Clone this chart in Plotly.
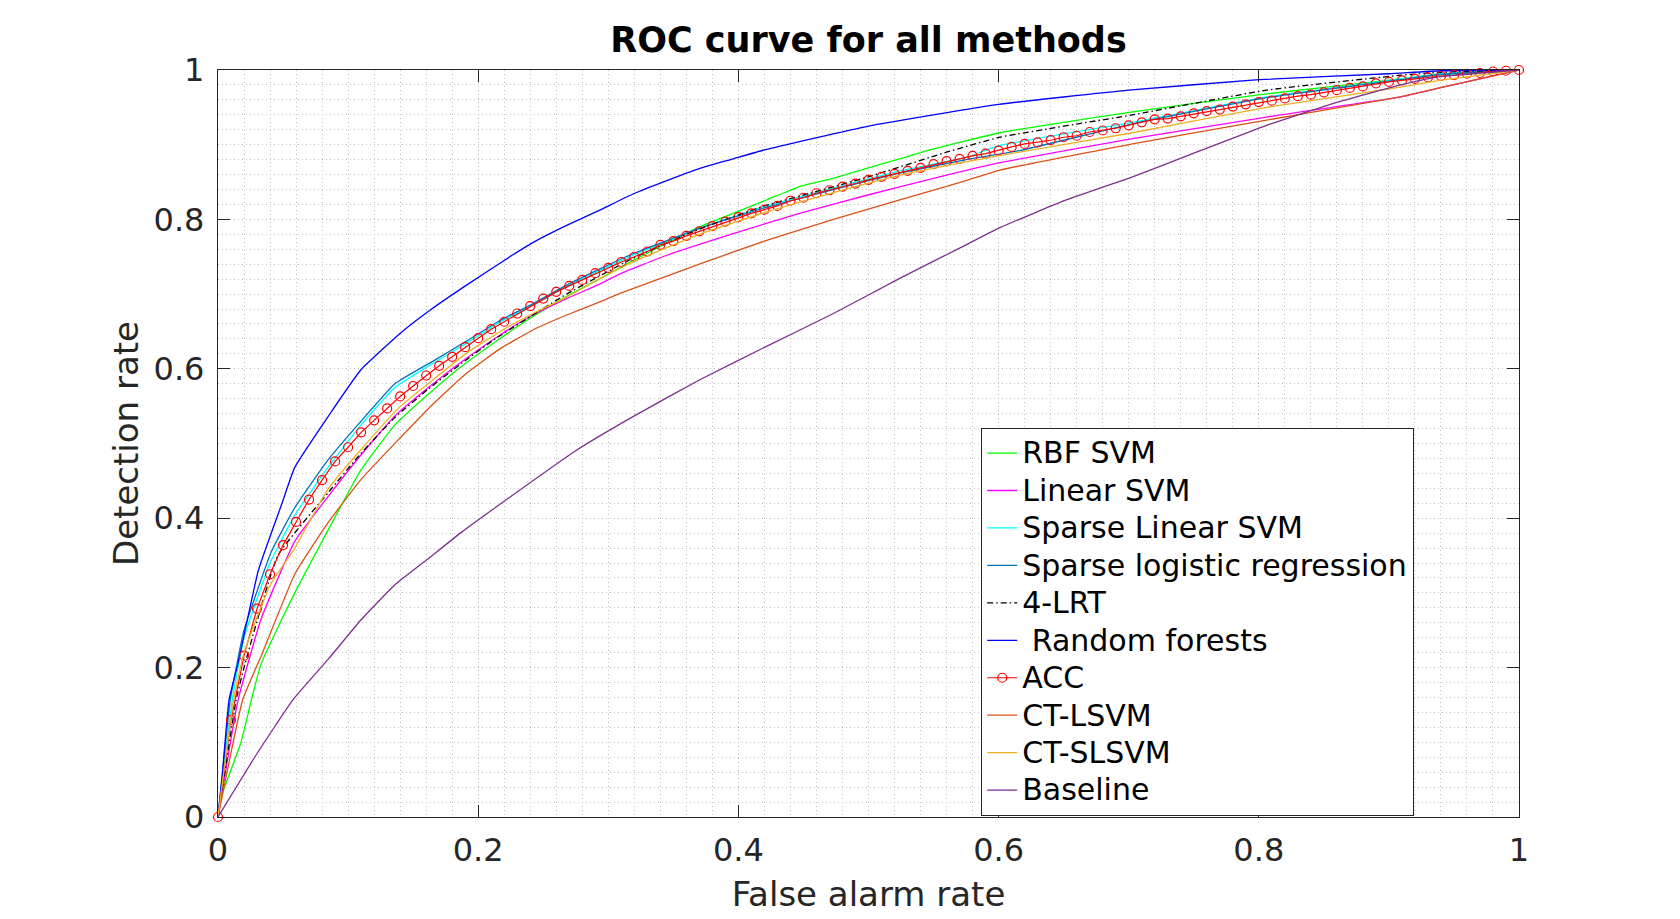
import plotly.graph_objects as go

# ---------------- data ----------------
rbf_x = [0, 0.0018, 0.0175, 0.0257, 0.0333, 0.059, 0.0846, 0.100, 0.110, 0.136, 0.161, 0.187, 0.213,
         0.242, 0.268, 0.294, 0.319, 0.370, 0.396, 0.4216, 0.447, 0.473, 0.498, 0.524, 0.547, 0.601,
         0.703, 0.806, 0.909, 0.939, 1.0]
rbf_y = [0, 0.0235, 0.099, 0.157, 0.206, 0.300, 0.384, 0.434, 0.465, 0.525, 0.565, 0.603, 0.636,
         0.670, 0.697, 0.721, 0.745, 0.790, 0.808, 0.826, 0.844, 0.855, 0.868, 0.881, 0.893, 0.916,
         0.944, 0.968, 0.988, 0.994, 1.0]

lin_x = [0, 0.0155, 0.0333, 0.059, 0.0846, 0.110, 0.136, 0.161, 0.187, 0.2166, 0.242, 0.268, 0.293,
         0.309, 0.345, 0.396, 0.447, 0.498, 0.550, 0.601, 0.703, 0.806, 0.909, 0.939, 1.0]
lin_y = [0, 0.157, 0.266, 0.369, 0.429, 0.485, 0.537, 0.574, 0.609, 0.645, 0.672, 0.694, 0.713,
         0.727, 0.752, 0.781, 0.808, 0.832, 0.855, 0.876, 0.908, 0.937, 0.964, 0.976, 1.0]

slsvm_x = [0, 0.011, 0.020, 0.040, 0.059, 0.0846, 0.110, 0.136, 0.165, 0.191, 0.217, 0.242, 0.268,
           0.294, 0.319, 0.370, 0.4216, 0.473, 0.524, 0.575, 0.601, 0.703, 0.806, 0.909, 0.939, 1.0]
slsvm_y = [0, 0.157, 0.240, 0.340, 0.404, 0.468, 0.525, 0.575, 0.607, 0.634, 0.663, 0.685, 0.710,
           0.732, 0.752, 0.788, 0.818, 0.842, 0.865, 0.883, 0.899, 0.930, 0.964, 0.988, 0.995, 1.0]

slr_x = [0, 0.0095, 0.020, 0.041, 0.059, 0.0846, 0.110, 0.136, 0.165, 0.191, 0.217, 0.242, 0.268,
         0.294, 0.319, 0.370, 0.4216, 0.473, 0.524, 0.575, 0.616, 0.703, 0.806, 0.909, 0.939, 1.0]
slr_y = [0, 0.157, 0.250, 0.355, 0.414, 0.478, 0.530, 0.580, 0.610, 0.637, 0.665, 0.687, 0.712,
         0.734, 0.754, 0.788, 0.816, 0.840, 0.862, 0.880, 0.892, 0.928, 0.963, 0.987, 0.994, 1.0]

lrt_x = [0, 0.014, 0.020, 0.046, 0.0846, 0.110, 0.136, 0.161, 0.187, 0.213, 0.268, 0.319, 0.370,
         0.420, 0.455, 0.500, 0.560, 0.601, 0.703, 0.806, 0.909, 0.940, 1.0]
lrt_y = [0, 0.157, 0.200, 0.350, 0.434, 0.487, 0.535, 0.572, 0.607, 0.640, 0.700, 0.748, 0.787,
         0.818, 0.835, 0.857, 0.890, 0.910, 0.940, 0.973, 0.993, 0.997, 1.0]

rf_x = [0, 0.003, 0.0085, 0.0154, 0.031, 0.049, 0.059, 0.085, 0.110, 0.1397, 0.165, 0.191, 0.2243,
        0.242, 0.268, 0.293, 0.319, 0.345, 0.370, 0.396, 0.420, 0.500, 0.600, 0.700, 0.800, 0.900,
        0.940, 1.0]
rf_y = [0, 0.050, 0.157, 0.206, 0.330, 0.419, 0.468, 0.537, 0.599, 0.647, 0.681, 0.712, 0.750,
        0.769, 0.792, 0.812, 0.834, 0.852, 0.868, 0.881, 0.893, 0.925, 0.954, 0.973, 0.987, 0.995,
        0.999, 1.0]

acc_x = [round(i * 0.01, 2) for i in range(101)]
acc_y = [0, 0.130, 0.216, 0.279, 0.325, 0.364, 0.395, 0.425, 0.451, 0.476,
         0.495, 0.515, 0.531, 0.547, 0.563, 0.577, 0.591, 0.604, 0.616, 0.629,
         0.641, 0.653, 0.663, 0.674, 0.684, 0.694, 0.703, 0.711, 0.719, 0.728,
         0.735, 0.743, 0.750, 0.757, 0.766, 0.771, 0.778, 0.784, 0.791, 0.797,
         0.803, 0.808, 0.813, 0.818, 0.825, 0.829, 0.835, 0.839, 0.844, 0.848,
         0.853, 0.857, 0.861, 0.865, 0.869, 0.874, 0.878, 0.881, 0.885, 0.888,
         0.892, 0.897, 0.901, 0.903, 0.906, 0.910, 0.912, 0.917, 0.919, 0.922,
         0.926, 0.930, 0.934, 0.935, 0.938, 0.942, 0.945, 0.947, 0.951, 0.954,
         0.957, 0.959, 0.962, 0.965, 0.967, 0.970, 0.973, 0.976, 0.978, 0.982,
         0.984, 0.986, 0.988, 0.990, 0.992, 0.993, 0.995, 0.996, 0.998, 0.999,
         1.0]

ctl_x = [0, 0.019, 0.0333, 0.059, 0.0846, 0.110, 0.1397, 0.1653, 0.191, 0.217, 0.242, 0.268, 0.294,
         0.309, 0.370, 0.4216, 0.473, 0.524, 0.575, 0.601, 0.703, 0.806, 0.909, 0.939, 1.0]
ctl_y = [0, 0.157, 0.216, 0.325, 0.394, 0.452, 0.507, 0.553, 0.594, 0.627, 0.652, 0.672, 0.690,
         0.701, 0.740, 0.772, 0.800, 0.826, 0.852, 0.866, 0.901, 0.933, 0.964, 0.976, 1.0]

cts_x = [0, 0.012, 0.020, 0.040, 0.059, 0.0846, 0.110, 0.1397, 0.165, 0.191, 0.217, 0.242, 0.268,
         0.294, 0.319, 0.370, 0.4216, 0.473, 0.524, 0.575, 0.616, 0.703, 0.806, 0.909, 0.939, 1.0]
cts_y = [0, 0.157, 0.220, 0.310, 0.360, 0.439, 0.492, 0.549, 0.585, 0.621, 0.650, 0.674, 0.696,
         0.721, 0.743, 0.780, 0.810, 0.836, 0.859, 0.877, 0.890, 0.916, 0.950, 0.977, 0.986, 1.0]

base_x = [0, 0.030, 0.0577, 0.0846, 0.110, 0.136, 0.161, 0.187, 0.213, 0.2755, 0.319, 0.370, 0.4216,
          0.473, 0.524, 0.575, 0.601, 0.652, 0.703, 0.755, 0.806, 0.857, 0.909, 0.939, 1.0]
base_y = [0, 0.085, 0.157, 0.211, 0.264, 0.311, 0.345, 0.381, 0.414, 0.491, 0.536, 0.585, 0.630,
          0.674, 0.721, 0.766, 0.789, 0.826, 0.857, 0.892, 0.926, 0.955, 0.980, 0.991, 1.0]

tick_vals = [0, 0.2, 0.4, 0.6, 0.8, 1]
tick_text = ["0", "0.2", "0.4", "0.6", "0.8", "1"]

series = [
    ("RBF SVM", rbf_x, rbf_y, "#00FF00", "solid"),
    ("Linear SVM", lin_x, lin_y, "#FF00FF", "solid"),
    ("Sparse Linear SVM", slsvm_x, slsvm_y, "#00FFFF", "solid"),
    ("Sparse logistic regression", slr_x, slr_y, "#0072BD", "solid"),
    ("4-LRT", lrt_x, lrt_y, "#000000", "6px,3px,1.5px,3px"),
    (" Random forests", rf_x, rf_y, "#0000FF", "solid"),
    ("ACC", acc_x, acc_y, "#FF0000", "solid"),
    ("CT-LSVM", ctl_x, ctl_y, "#D95319", "solid"),
    ("CT-SLSVM", cts_x, cts_y, "#EDB120", "solid"),
    ("Baseline", base_x, base_y, "#7E2F8E", "solid"),
]

FONT = "DejaVu Sans"
AX = "#262626"

fig = go.Figure()
for name, xs, ys, col, dash in series:
    shown = name.replace(" ", "&nbsp;", 1) if name.startswith(" ") else name
    label = "<span style='font-size:30px'>" + shown + "</span>"
    if name == "ACC":
        fig.add_trace(go.Scatter(
            x=xs, y=ys, name=label, mode="lines+markers",
            line=dict(color=col, width=1.2, dash=dash),
            marker=dict(symbol="circle-open", size=9, color=col, line=dict(width=1.2, color=col)),
            cliponaxis=False))
    else:
        fig.add_trace(go.Scatter(
            x=xs, y=ys, name=label, mode="lines",
            line=dict(color=col, width=1.3, dash=dash, shape="spline", smoothing=0.4)))

grid_common = dict(
    range=[0, 1], tickvals=tick_vals, ticktext=tick_text,
    ticks="inside", ticklen=12, tickwidth=1.2, tickcolor=AX,
    showline=True, linecolor=AX, linewidth=1.3, mirror="ticks",
    showgrid=True, gridcolor="#bbbbbb", griddash="1px,3px", gridwidth=1,
    zeroline=False,
    minor=dict(dtick=0.02, tick0=0, showgrid=True, gridcolor="#c4c4c4",
               griddash="1px,3px", gridwidth=1),
    tickfont=dict(family=FONT, size=32, color=AX),
)

fig.update_xaxes(**grid_common, ticklabelstandoff=4,
                 title=dict(text="False alarm rate", font=dict(family=FONT, size=34, color=AX), standoff=14))
fig.update_yaxes(**grid_common, ticklabelstandoff=6,
                 title=dict(text="Detection rate", font=dict(family=FONT, size=34, color=AX), standoff=4))

fig.update_layout(
    width=1680, height=919,
    margin=dict(l=218, r=161, t=70, b=102),
    paper_bgcolor="white", plot_bgcolor="white",
    title=dict(text="<b>ROC curve for all methods</b>", x=0.5, xref="paper", xanchor="center",
               y=1 - 40 / 919, yref="container", yanchor="middle",
               font=dict(family=FONT, size=35, color="#000000")),
    legend=dict(x=0.5864, y=0.5207, xanchor="left", yanchor="top",
                bgcolor="white", bordercolor=AX, borderwidth=1.3,
                font=dict(family=FONT, size=26.5, color="#000000"),
                tracegroupgap=0, itemwidth=30),
    showlegend=True,
)

fig.write_html("out.html", config={"displayModeBar": False},
               post_script="document.body.style.margin='0';document.body.style.padding='0';")
